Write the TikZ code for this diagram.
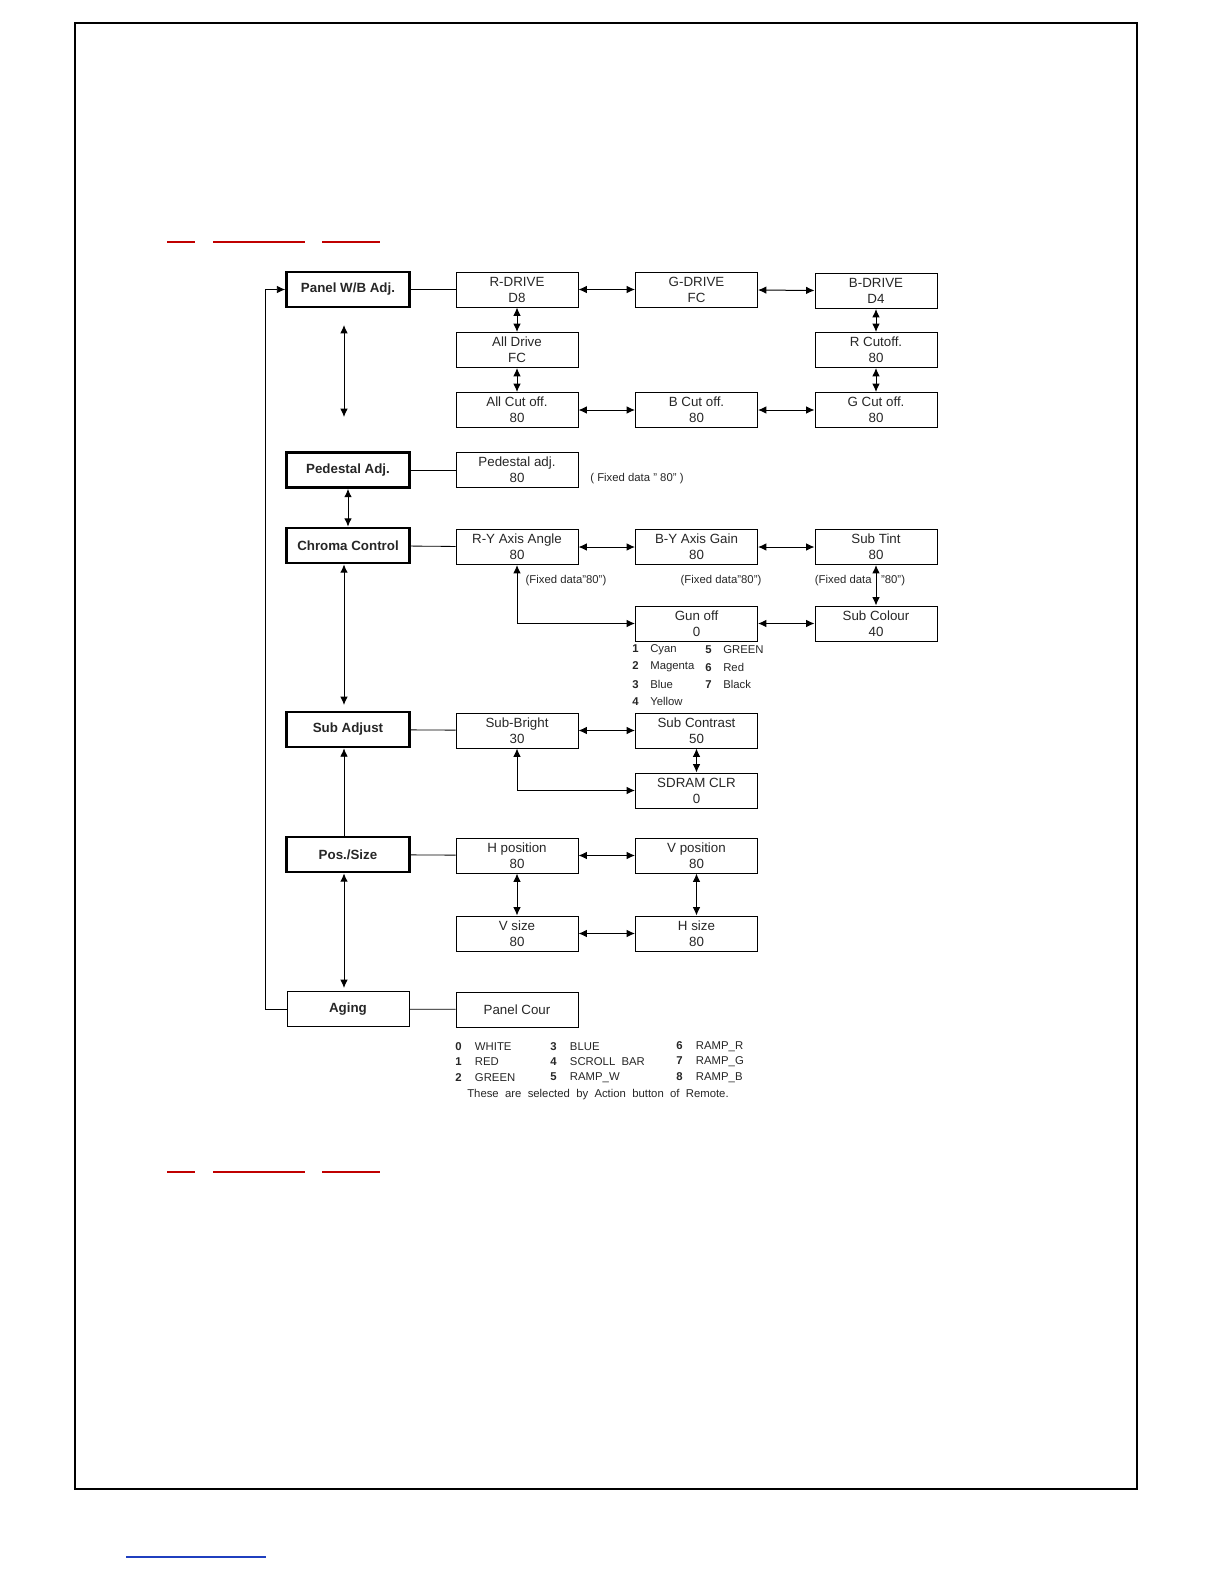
\documentclass[tikz,border=0pt]{standalone}
\usepackage{fontspec}
\setmainfont{Liberation Sans}
\usetikzlibrary{arrows.meta}
\definecolor{linered}{HTML}{c00000}
\definecolor{lineblue}{HTML}{1f3fbf}
\begin{document}
\begin{tikzpicture}[x=0.6pt, y=-0.6pt, >={Latex[length=5pt,width=4.5pt]},
    every node/.append style={font=\fontsize{8}{9.6}\selectfont, text=black!85},
    item/.style={draw, line width=0.6pt, minimum width=73.2pt, minimum height=21pt, inner sep=1pt, align=center},
    menu/.style={draw, line width=1.6pt, minimum width=73.8pt, minimum height=21pt, inner sep=1pt, font=\fontsize{8}{9.6}\selectfont\bfseries},
    note/.style={inner sep=0pt, font=\fontsize{6.8}{8}\selectfont},
    lnk/.style={line width=0.5pt},
    bi/.style={<->, line width=0.6pt}]
    \clip (0,0) rectangle (1224,1584);
    \draw[line width=0.8pt] (75,23) rectangle (1137,1489);
    % red heading rules
    \foreach \yy in {242,1172} {
        \draw[linered, line width=0.8pt] (167,\yy) -- (195,\yy) (213,\yy) -- (305,\yy) (322,\yy) -- (380,\yy);
    }
    \draw[lineblue, line width=0.8pt] (126,1557) -- (266,1557);
    % main menu
    \node[menu] (pwb) at (348,289.5) {Panel W/B Adj.};
    \node[menu] (ped) at (348,470) {Pedestal Adj.};
    \node[menu] (chr) at (348,545.5) {Chroma Control};
    \node[menu] (sub) at (348,729.5) {Sub Adjust};
    \node[menu] (pos) at (348,854.5) {Pos./Size};
    \node[item] (age) at (348,1009) {\bfseries Aging};
    % panel W/B
    \node[item] (rdr) at (517,289.5) {R-DRIVE\\D8};
    \node[item] (gdr) at (696.5,289.5) {G-DRIVE\\FC};
    \node[item] (bdr) at (876,291) {B-DRIVE\\D4};
    \node[item] (adr) at (517,350) {All Drive\\FC};
    \node[item] (rco) at (876,350) {R Cutoff.\\80};
    \node[item] (aco) at (517,410) {All Cut off.\\80};
    \node[item] (bco) at (696.5,410) {B Cut off.\\80};
    \node[item] (gco) at (876,410) {G Cut off.\\80};
    % pedestal
    \node[item] (pad) at (517,470) {Pedestal adj.\\80};
    \node[note, anchor=west] at (590,479) {( Fixed data " 80" )};
    % chroma
    \node[item] (rya) at (517,547) {R-Y Axis Angle\\80};
    \node[item] (byg) at (696.5,547) {B-Y Axis Gain\\80};
    \node[item] (stn) at (876,547) {Sub Tint\\80};
    \node[item] (gun) at (696.5,623.5) {Gun off\\0};
    \node[item] (scl) at (876,623.5) {Sub Colour\\40};
    \node[note] at (566,581) {(Fixed data"80")};
    \node[note] at (721,581) {(Fixed data"80")};
    \node[note] at (860,581) {(Fixed data \ \ "80")};
    \foreach \n/\t/\yy in {1/Cyan/650,2/Magenta/667,3/Blue/684,4/Yellow/701} {
        \node[note, anchor=west] at (632,\yy) {\textbf{\n}\hspace{7pt}\t};
    }
    \foreach \n/\t/\yy in {5/GREEN/650,6/Red/667,7/Black/684} {
        \node[note, anchor=west] at (705,\yy) {\textbf{\n}\hspace{7pt}\t};
    }
    % sub adjust
    \node[item] (sbr) at (517,730.5) {Sub-Bright\\30};
    \node[item] (sct) at (696.5,730.5) {Sub Contrast\\50};
    \node[item] (sdr) at (696.5,790.5) {SDRAM CLR\\0};
    % pos/size
    \node[item] (hps) at (517,855.5) {H position\\80};
    \node[item] (vps) at (696.5,855.5) {V position\\80};
    \node[item] (vsz) at (517,933.5) {V size\\80};
    \node[item] (hsz) at (696.5,933.5) {H size\\80};
    % aging
    \node[item] (pcr) at (517,1009.5) {Panel Cour};
    \foreach \n/\t/\xx/\yy in {0/WHITE/455/1047,1/RED/455/1062,2/GREEN/455/1078,
        3/BLUE/550/1047,4/SCROLL\ \ BAR/550/1062,5/RAMP\_W/550/1078,
        6/RAMP\_R/676/1047,7/RAMP\_G/676/1062,8/RAMP\_B/676/1078} {
        \node[note, anchor=west] at (\xx,\yy) {\textbf{\n}\hspace{8pt}\t};
    }
    \node[note] at (598,1095) {These \ are \ selected \ by \ Action \ button \ of \ Remote.};
    % connectors
    \coordinate (loop) at (265,300);
    \draw[->, lnk] (age.west) -| (loop |- pwb.west) -- (pwb.west);
    \coordinate (up1) at (344,325);
    \coordinate (dn1) at (344,417);
    \draw[bi] (up1) -- (dn1);
    \draw[bi] (ped) -- (chr);
    \coordinate (dn2) at (344,705);
    \draw[bi] (chr.south -| dn2) -- (dn2);
    \draw[->, lnk] (pos.north -| dn2) -- (sub.south -| dn2);
    \coordinate (dn3) at (344,988);
    \draw[bi] (pos.south -| dn3) -- (dn3);
    \foreach \a/\b in {pwb/rdr,ped/pad,chr/rya,sub/sbr,pos/hps,age/pcr} {
        \draw[lnk] (\a) -- (\b);
    }
    \foreach \a/\b in {rdr/gdr,gdr/bdr,rdr/adr,adr/aco,aco/bco,bco/gco,bdr/rco,rco/gco,
        rya/byg,byg/stn,stn/scl,gun/scl,sbr/sct,sct/sdr,hps/vps,hps/vsz,vps/hsz,vsz/hsz} {
        \draw[bi] (\a) -- (\b);
    }
    \draw[bi] (rya.south) |- (gun.west);
    \draw[bi] (sbr.south) |- (sdr.west);
\end{tikzpicture}
\end{document}
